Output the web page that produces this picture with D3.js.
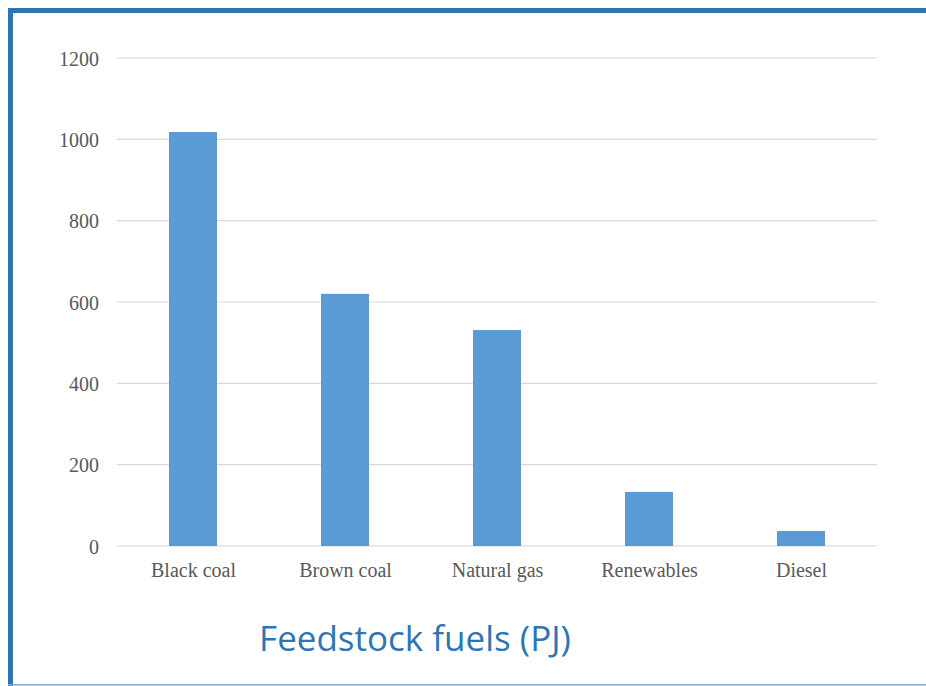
<!DOCTYPE html>
<html lang="en">
<head>
<meta charset="UTF-8" />
<title>Feedstock fuels (PJ)</title>
<style>
  body { margin: 0; background: #ffffff; }
  #viz { width: 926px; height: 686px; }
  .tick text { font-family: 'Liberation Serif', 'Times New Roman', serif; font-size: 20px; fill: #595959; }
  .title { font-family: 'Open Sans', 'Noto Sans', sans-serif; font-size: 35px; fill: #2e75b6; }
</style>
<script src="https://d3js.org/d3.v7.min.js"></script>
</head>
<body>
<div id="viz"></div>
<script>
  // data
  const categories = ['Black coal', 'Brown coal', 'Natural gas', 'Renewables', 'Diesel'];
  const values = [1018, 620, 531, 133, 37];
  const yTicks = [0, 200, 400, 600, 800, 1000, 1200];

  const width = 926, height = 686;
  const plot = { left: 117, right: 877, top: 58, bottom: 546 };

  const svg = d3.select('#viz').append('svg')
    .attr('width', width)
    .attr('height', height);

  // frame: thick blue on left and top, thin on bottom
  svg.append('rect').attr('x', 8).attr('y', 8).attr('width', 5).attr('height', 678).attr('fill', '#2e75b6');
  svg.append('rect').attr('x', 8).attr('y', 8).attr('width', 918).attr('height', 5).attr('fill', '#2e75b6');
  svg.append('rect').attr('x', 8).attr('y', 684).attr('width', 918).attr('height', 1.5).attr('fill', '#7fa7d1');

  const x = d3.scaleBand()
    .domain(categories)
    .range([plot.left, plot.right])
    .paddingInner(0.684)
    .paddingOuter(0.342);

  const y = d3.scaleLinear()
    .domain([0, 1200])
    .range([plot.bottom, plot.top]);

  // gridlines
  svg.append('g')
    .selectAll('line')
    .data(yTicks)
    .enter().append('line')
    .attr('x1', plot.left).attr('x2', plot.right)
    .attr('y1', d => y(d)).attr('y2', d => y(d))
    .attr('stroke', '#d9d9d9')
    .attr('stroke-width', 1.2);

  // y axis labels
  const yAxis = svg.append('g')
    .attr('transform', `translate(${plot.left - 18},0)`)
    .call(d3.axisLeft(y).tickValues(yTicks).tickFormat(d3.format('d')).tickSize(0).tickPadding(0));
  yAxis.select('.domain').remove();
  yAxis.selectAll('text').attr('dy', '0.35em');

  // bars
  svg.append('g')
    .selectAll('rect')
    .data(values)
    .enter().append('rect')
    .attr('x', (d, i) => x(categories[i]))
    .attr('y', d => y(d))
    .attr('width', x.bandwidth())
    .attr('height', d => y(0) - y(d))
    .attr('fill', '#5b9bd5');

  // x axis labels
  const xAxis = svg.append('g')
    .attr('transform', `translate(0,${plot.bottom})`)
    .call(d3.axisBottom(d3.scalePoint().domain(categories)
      .range([plot.left + 76, plot.right - 76])).tickSize(0).tickPadding(17));
  xAxis.select('.domain').remove();

  // title
  svg.append('text')
    .attr('class', 'title')
    .attr('x', 415)
    .attr('y', 651)
    .attr('text-anchor', 'middle')
    .text('Feedstock fuels (PJ)');
</script>
</body>
</html>
